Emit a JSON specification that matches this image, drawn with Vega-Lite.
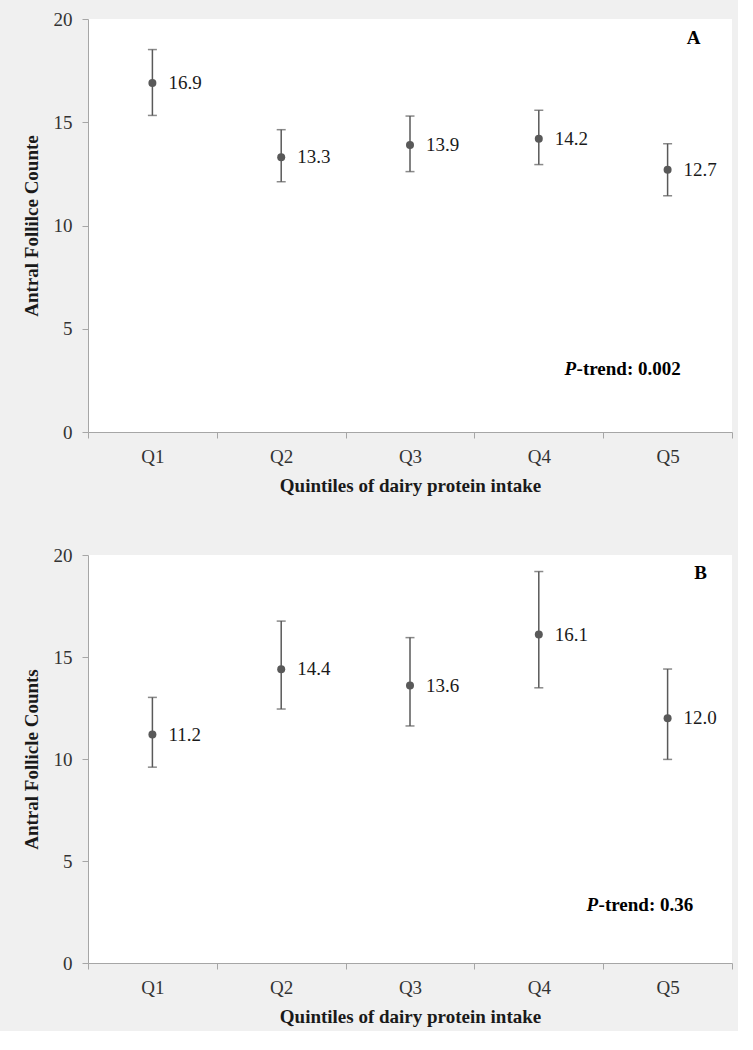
{
  "$schema": "https://vega.github.io/schema/vega-lite/v6.json",
  "background": "#f0f0f0",
  "padding": {"left": 22, "top": 10, "right": 5, "bottom": 5},
  "spacing": 51,
  "datasets": {
    "a": [
      {"q": "Q1", "mean": 16.9, "lo": 15.33, "hi": 18.52, "label": "16.9"},
      {"q": "Q2", "mean": 13.3, "lo": 12.12, "hi": 14.64, "label": "13.3"},
      {"q": "Q3", "mean": 13.9, "lo": 12.61, "hi": 15.3, "label": "13.9"},
      {"q": "Q4", "mean": 14.2, "lo": 12.95, "hi": 15.58, "label": "14.2"},
      {"q": "Q5", "mean": 12.7, "lo": 11.44, "hi": 13.96, "label": "12.7"}
    ],
    "b": [
      {"q": "Q1", "mean": 11.2, "lo": 9.6, "hi": 13.02, "label": "11.2"},
      {"q": "Q2", "mean": 14.4, "lo": 12.45, "hi": 16.76, "label": "14.4"},
      {"q": "Q3", "mean": 13.6, "lo": 11.62, "hi": 15.95, "label": "13.6"},
      {"q": "Q4", "mean": 16.1, "lo": 13.49, "hi": 19.19, "label": "16.1"},
      {"q": "Q5", "mean": 12.0, "lo": 9.98, "hi": 14.41, "label": "12.0"}
    ],
    "annA": [{"q": "Q5", "y": 19.1, "panel": "A", "yp": 3.05, "ptxt": "P", "rest": "-trend: 0.002"}],
    "annB": [{"q": "Q5", "y": 19.1, "panel": "B", "yp": 2.86, "ptxt": "P", "rest": "-trend: 0.36"}]
  },
  "config": {
    "font": "Liberation Serif",
    "text": {"font": "Liberation Serif"},
    "view": {"stroke": null, "fill": "#ffffff"},
    "axis": {
      "grid": false,
      "domainColor": "#a6a6a6",
      "tickColor": "#a6a6a6",
      "tickSize": 6,
      "labelFont": "Liberation Serif",
      "labelFontSize": 19,
      "labelColor": "#333333",
      "titleFont": "Liberation Serif",
      "titleFontSize": 19,
      "titleFontWeight": "bold",
      "titleColor": "#1a1a1a"
    }
  },
  "vconcat": [
    {
      "width": 644,
      "height": 413,
      "data": {"name": "a"},
      "encoding": {
        "x": {
          "field": "q", "type": "nominal",
          "scale": {"paddingInner": 0, "paddingOuter": 0},
          "axis": {"title": "Quintiles of dairy protein intake", "labelAngle": 0, "tickBand": "extent", "labelPadding": 9, "titlePadding": 10}
        }
      },
      "layer": [
        {
          "mark": {"type": "rule", "color": "#595959", "strokeWidth": 1.5},
          "encoding": {
            "y": {"field": "lo", "type": "quantitative", "scale": {"domain": [0, 20]}, "axis": {"title": "Antral Follilce Counte", "values": [0, 5, 10, 15, 20], "labelPadding": 10, "titlePadding": 12}},
            "y2": {"field": "hi"}
          }
        },
        {"mark": {"type": "tick", "color": "#595959", "thickness": 1.5, "size": 9}, "encoding": {"y": {"field": "lo", "type": "quantitative"}}},
        {"mark": {"type": "tick", "color": "#595959", "thickness": 1.5, "size": 9}, "encoding": {"y": {"field": "hi", "type": "quantitative"}}},
        {"mark": {"type": "point", "filled": true, "color": "#595959", "opacity": 1, "size": 64}, "encoding": {"y": {"field": "mean", "type": "quantitative"}}},
        {"mark": {"type": "text", "align": "left", "baseline": "middle", "dx": 16, "fontSize": 19, "color": "#1a1a1a"}, "encoding": {"y": {"field": "mean", "type": "quantitative"}, "text": {"field": "label"}}},
        {
          "data": {"name": "annA"},
          "mark": {"type": "text", "align": "center", "baseline": "middle", "dx": 26, "fontSize": 19, "fontWeight": "bold", "color": "#000000"},
          "encoding": {"y": {"field": "y", "type": "quantitative"}, "text": {"field": "panel"}}
        },
        {
          "data": {"name": "annA"},
          "mark": {"type": "text", "align": "left", "baseline": "middle", "dx": -103, "fontSize": 19, "fontWeight": "bold", "fontStyle": "italic", "color": "#000000"},
          "encoding": {"y": {"field": "yp", "type": "quantitative"}, "text": {"field": "ptxt"}}
        },
        {
          "data": {"name": "annA"},
          "mark": {"type": "text", "align": "left", "baseline": "middle", "dx": -91, "fontSize": 19, "fontWeight": "bold", "color": "#000000"},
          "encoding": {"y": {"field": "yp", "type": "quantitative"}, "text": {"field": "rest"}}
        }
      ]
    },
    {
      "width": 644,
      "height": 408,
      "data": {"name": "b"},
      "encoding": {
        "x": {
          "field": "q", "type": "nominal",
          "scale": {"paddingInner": 0, "paddingOuter": 0},
          "axis": {"title": "Quintiles of dairy protein intake", "labelAngle": 0, "tickBand": "extent", "labelPadding": 9, "titlePadding": 10}
        }
      },
      "layer": [
        {
          "mark": {"type": "rule", "color": "#595959", "strokeWidth": 1.5},
          "encoding": {
            "y": {"field": "lo", "type": "quantitative", "scale": {"domain": [0, 20]}, "axis": {"title": "Antral Follicle Counts", "values": [0, 5, 10, 15, 20], "labelPadding": 10, "titlePadding": 12}},
            "y2": {"field": "hi"}
          }
        },
        {"mark": {"type": "tick", "color": "#595959", "thickness": 1.5, "size": 9}, "encoding": {"y": {"field": "lo", "type": "quantitative"}}},
        {"mark": {"type": "tick", "color": "#595959", "thickness": 1.5, "size": 9}, "encoding": {"y": {"field": "hi", "type": "quantitative"}}},
        {"mark": {"type": "point", "filled": true, "color": "#595959", "opacity": 1, "size": 64}, "encoding": {"y": {"field": "mean", "type": "quantitative"}}},
        {"mark": {"type": "text", "align": "left", "baseline": "middle", "dx": 16, "fontSize": 19, "color": "#1a1a1a"}, "encoding": {"y": {"field": "mean", "type": "quantitative"}, "text": {"field": "label"}}},
        {
          "data": {"name": "annB"},
          "mark": {"type": "text", "align": "center", "baseline": "middle", "dx": 33, "fontSize": 19, "fontWeight": "bold", "color": "#000000"},
          "encoding": {"y": {"field": "y", "type": "quantitative"}, "text": {"field": "panel"}}
        },
        {
          "data": {"name": "annB"},
          "mark": {"type": "text", "align": "left", "baseline": "middle", "dx": -81, "fontSize": 19, "fontWeight": "bold", "fontStyle": "italic", "color": "#000000"},
          "encoding": {"y": {"field": "yp", "type": "quantitative"}, "text": {"field": "ptxt"}}
        },
        {
          "data": {"name": "annB"},
          "mark": {"type": "text", "align": "left", "baseline": "middle", "dx": -69, "fontSize": 19, "fontWeight": "bold", "color": "#000000"},
          "encoding": {"y": {"field": "yp", "type": "quantitative"}, "text": {"field": "rest"}}
        }
      ]
    }
  ]
}
